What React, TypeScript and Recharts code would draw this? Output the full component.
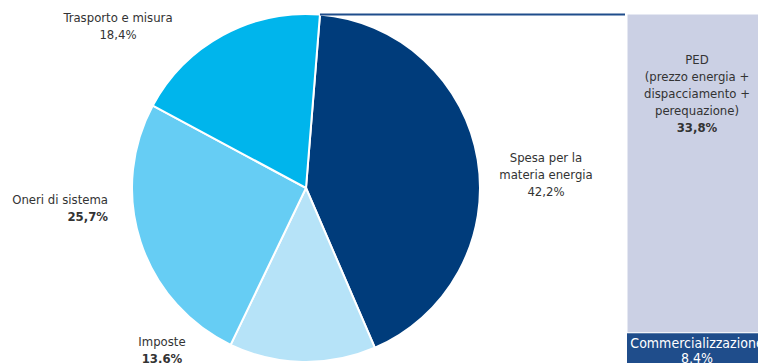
import React from 'react';
import { PieChart, Pie, Cell, BarChart, Bar, XAxis, YAxis } from 'recharts';

// Composizione della spesa (quote %)
const sliceNames = ['Spesa per la materia energia', 'Imposte', 'Oneri di sistema', 'Trasporto e misura'];
const sliceValues = [42.2, 13.6, 25.7, 18.4];
const sliceColors = ['#003c7b', '#b6e3f8', '#66cdf4', '#00b5ec'];

// Scomposizione della materia energia
const barNames = ['Commercializzazione', 'PED'];
const barValues = [8.4, 33.8];
const barColors = ['#1f4d8b', '#cbd0e4'];

const pieData = sliceNames.map((name, i) => ({ name, value: sliceValues[i] }));
const barData = [{ cat: 'energia', comm: barValues[0], ped: barValues[1] }];

const FONT = '"DejaVu Sans Condensed", "DejaVu Sans", sans-serif';
const TEXT = '#333';

const CX = 306;
const CY = 188;
const R = 174;
const START = 85.4;
const BAR_LEFT = 627;
const BAR_TOP = 14;

// label text lines and anchor per slice
const sliceLabels: Record<string, { x: number; y: number; anchor: 'start' | 'middle' | 'end'; lines: string[]; bold: boolean }> = {
  'Spesa per la materia energia': { x: 546, y: 162, anchor: 'middle', lines: ['Spesa per la', 'materia energia', '42,2%'], bold: false },
  Imposte: { x: 162, y: 346, anchor: 'middle', lines: ['Imposte', '13,6%'], bold: true },
  'Oneri di sistema': { x: 108, y: 204, anchor: 'end', lines: ['Oneri di sistema', '25,7%'], bold: true },
  'Trasporto e misura': { x: 118, y: 22, anchor: 'middle', lines: ['Trasporto e misura', '18,4%'], bold: false },
};

const renderSliceLabel = (props: any) => {
  const l = sliceLabels[props.name];
  if (!l) return null;
  return (
    <text x={l.x} y={l.y} textAnchor={l.anchor} fill={TEXT} fontSize={13} fontFamily={FONT}>
      {l.lines.map((t, i) => (
        <tspan
          key={i}
          x={l.x}
          dy={i === 0 ? 0 : 17}
          fontWeight={i === l.lines.length - 1 && l.bold ? 'bold' : 'normal'}
        >
          {t}
        </tspan>
      ))}
    </text>
  );
};

const pedLines = ['PED', '(prezzo energia +', 'dispacciamento +', 'perequazione)'];

export default function App() {
  const rad = (START * Math.PI) / 180;
  const topX = CX + R * Math.cos(rad);
  const topY = CY - R * Math.sin(rad);

  return (
    <div
      style={{
        position: 'fixed',
        left: 0,
        top: 0,
        width: 758,
        height: 363,
        overflow: 'hidden',
        background: '#fff',
      }}
    >
      <div style={{ position: 'absolute', left: 0, top: 0 }}>
        <PieChart width={758} height={420} margin={{ top: 0, right: 0, bottom: 0, left: 0 }}>
          <Pie
            data={pieData}
            dataKey="value"
            nameKey="name"
            cx={CX}
            cy={CY}
            outerRadius={R}
            startAngle={START}
            endAngle={START - 360}
            stroke="#fff"
            strokeWidth={2}
            labelLine={false}
            label={renderSliceLabel}
            isAnimationActive={false}
          >
            {pieData.map((d, i) => (
              <Cell key={d.name} fill={sliceColors[i]} />
            ))}
          </Pie>
        </PieChart>
      </div>
      <svg style={{ position: 'absolute', left: 0, top: 0 }} width={758} height={363}>
        <line x1={topX} y1={topY} x2={BAR_LEFT - 2} y2={topY} stroke="#1f4d8b" strokeWidth={2} />
      </svg>
      <div style={{ position: 'absolute', left: BAR_LEFT, top: 0 }}>
        <BarChart
          width={140}
          height={BAR_TOP + 398}
          data={barData}
          margin={{ top: BAR_TOP, right: 0, bottom: 0, left: 0 }}
          barCategoryGap={0}
        >
          <XAxis dataKey="cat" hide />
          <YAxis hide domain={[0, barValues[0] + barValues[1]]} />
          <Bar dataKey="comm" name={barNames[0]} stackId="a" fill={barColors[0]} isAnimationActive={false} />
          <Bar
            dataKey="ped"
            name={barNames[1]}
            stackId="a"
            fill={barColors[1]}
            stroke="#fff"
            strokeWidth={1}
            isAnimationActive={false}
          />
        </BarChart>
        <div
          style={{
            position: 'absolute',
            left: 0,
            top: 51,
            width: 140,
            textAlign: 'center',
            fontFamily: FONT,
            fontSize: 13,
            lineHeight: '17px',
            color: TEXT,
          }}
        >
          {pedLines.map((t) => (
            <div key={t}>{t}</div>
          ))}
          <div style={{ fontWeight: 'bold' }}>33,8%</div>
        </div>
        <div
          style={{
            position: 'absolute',
            left: 0,
            top: 336,
            width: 140,
            textAlign: 'center',
            fontFamily: FONT,
            fontSize: 14,
            lineHeight: '15px',
            color: '#fff',
          }}
        >
          <div>Commercializzazione</div>
          <div>8,4%</div>
        </div>
      </div>
    </div>
  );
}
